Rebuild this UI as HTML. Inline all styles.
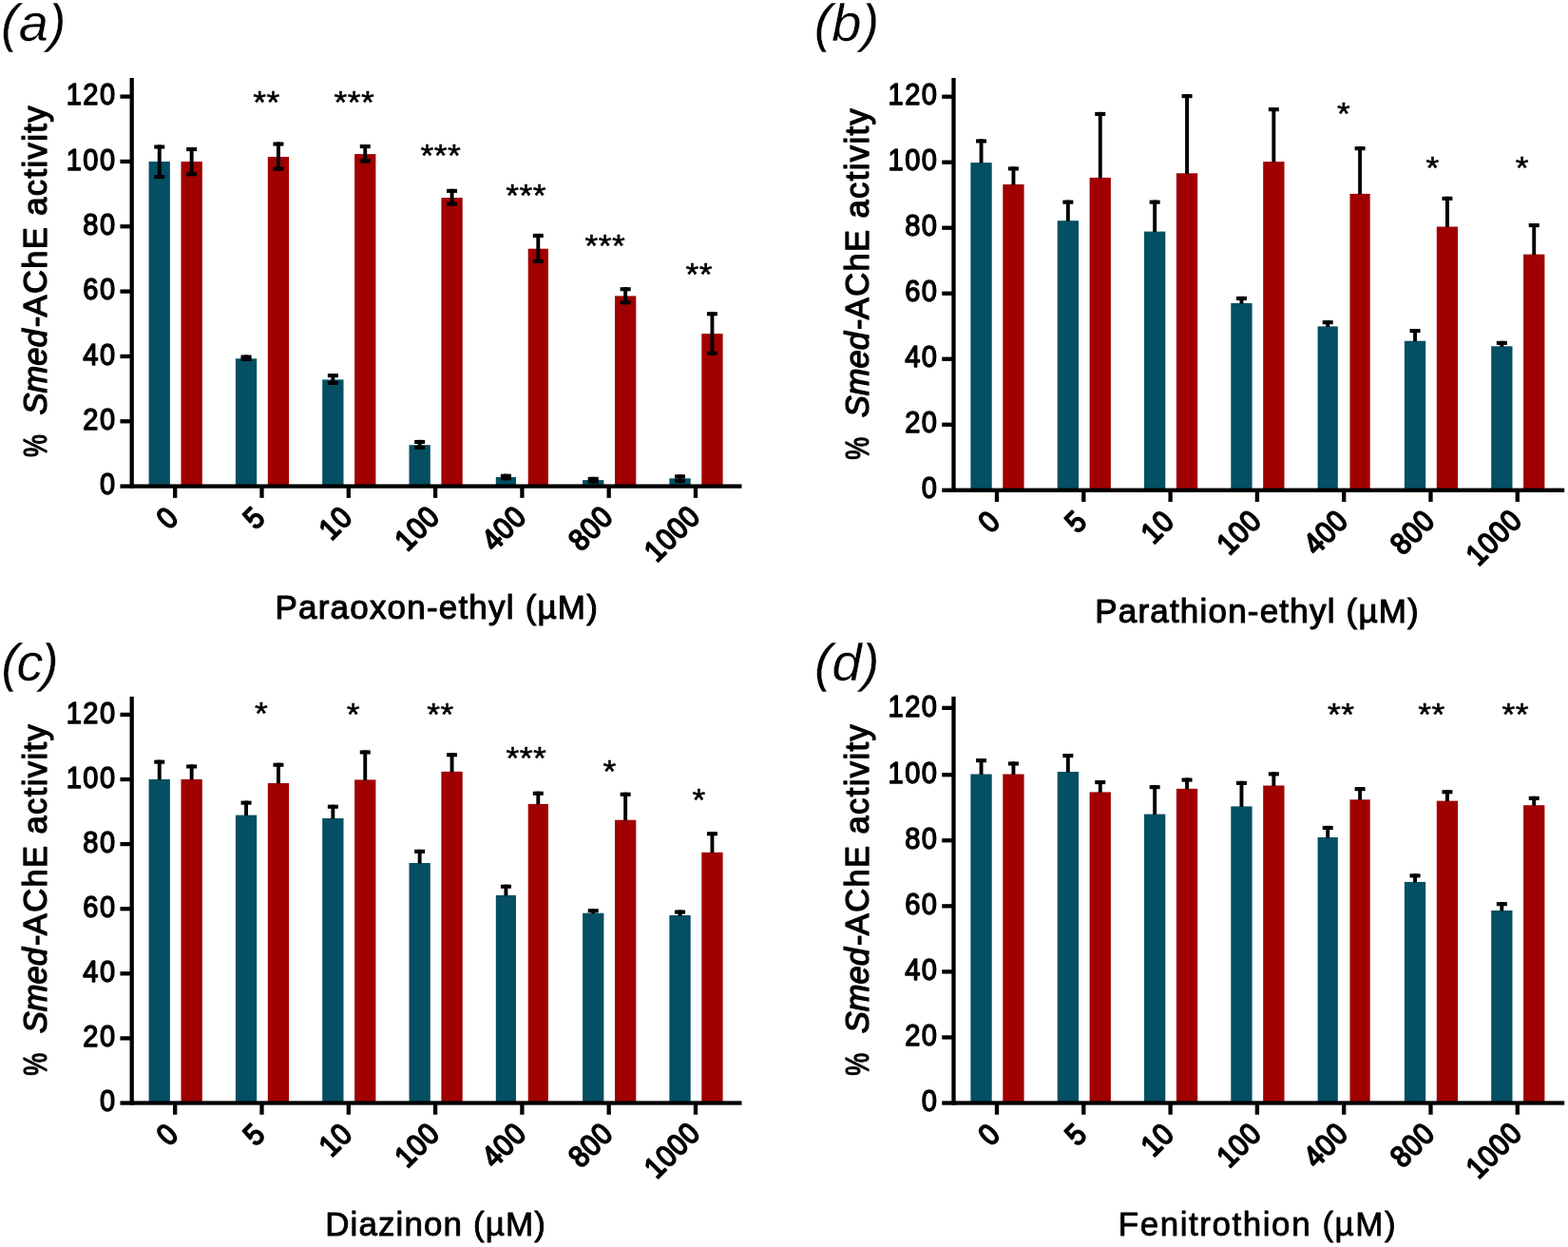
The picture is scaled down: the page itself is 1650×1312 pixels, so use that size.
<!DOCTYPE html>
<html lang="en">
<head>
<meta charset="utf-8">
<title>Smed-AChE activity</title>
<style>
html,body{margin:0;padding:0;background:#fff;}
body{width:1650px;height:1312px;overflow:hidden;}
svg{display:block;}
text{font-family:"Liberation Sans",sans-serif;fill:#000;stroke:#000;stroke-width:1.3px;stroke-linejoin:round;}
.t{font-size:32.3px;letter-spacing:1.65px;stroke-width:1.45px;}
.x{font-size:31.5px;letter-spacing:0.8px;stroke-width:1.8px;}
.s{font-size:33.5px;letter-spacing:0.4px;stroke-width:0.5px;}
.yl{font-size:34.5px;letter-spacing:1.4px;}
.xt{font-size:33px;stroke-width:0.5px;}
.pl{font-size:56px;font-style:italic;stroke:#fff;stroke-width:0.3px;}
</style>
</head>
<body>
<svg xmlns="http://www.w3.org/2000/svg" width="1650" height="1312" viewBox="0 0 1650 1312" shape-rendering="auto">
<g>
<rect x="0" y="0" width="1650" height="1312" fill="#fff"/>
<g>
<rect x="156.6" y="170" width="22.3" height="341.6" fill="#044F63"/>
<rect x="165.8" y="152.5" width="3.9" height="35.6" fill="#000"/>
<rect x="162.25" y="152.5" width="11" height="4.1" fill="#000"/>
<rect x="162.25" y="184" width="11" height="4.1" fill="#000"/>
<rect x="190.5" y="170" width="22.3" height="341.6" fill="#A00000"/>
<rect x="199.7" y="155" width="3.9" height="30.3" fill="#000"/>
<rect x="196.15" y="155" width="11" height="4.1" fill="#000"/>
<rect x="196.15" y="181.2" width="11" height="4.1" fill="#000"/>
<rect x="247.9" y="377.3" width="22.3" height="134.3" fill="#044F63"/>
<rect x="257.1" y="373.5" width="3.9" height="6.5" fill="#000"/>
<rect x="253.55" y="373.5" width="11" height="4.1" fill="#000"/>
<rect x="253.55" y="375.9" width="11" height="4.1" fill="#000"/>
<rect x="281.8" y="165" width="22.3" height="346.6" fill="#A00000"/>
<rect x="291" y="149.5" width="3.9" height="30.2" fill="#000"/>
<rect x="287.45" y="149.5" width="11" height="4.1" fill="#000"/>
<rect x="287.45" y="175.6" width="11" height="4.1" fill="#000"/>
<rect x="339.2" y="399.4" width="22.3" height="112.2" fill="#044F63"/>
<rect x="348.4" y="393.1" width="3.9" height="11.9" fill="#000"/>
<rect x="344.85" y="393.1" width="11" height="4.1" fill="#000"/>
<rect x="344.85" y="400.9" width="11" height="4.1" fill="#000"/>
<rect x="373.1" y="162.1" width="22.3" height="349.5" fill="#A00000"/>
<rect x="382.3" y="152" width="3.9" height="19.5" fill="#000"/>
<rect x="378.75" y="152" width="11" height="4.1" fill="#000"/>
<rect x="378.75" y="167.4" width="11" height="4.1" fill="#000"/>
<rect x="430.5" y="468.2" width="22.3" height="43.4" fill="#044F63"/>
<rect x="439.7" y="462.9" width="3.9" height="10.1" fill="#000"/>
<rect x="436.15" y="462.9" width="11" height="4.1" fill="#000"/>
<rect x="436.15" y="468.9" width="11" height="4.1" fill="#000"/>
<rect x="464.4" y="208" width="22.3" height="303.6" fill="#A00000"/>
<rect x="473.6" y="198.8" width="3.9" height="17.8" fill="#000"/>
<rect x="470.05" y="198.8" width="11" height="4.1" fill="#000"/>
<rect x="470.05" y="212.5" width="11" height="4.1" fill="#000"/>
<rect x="521.8" y="502" width="21.2" height="9.6" fill="#044F63"/>
<rect x="530.45" y="498.7" width="3.9" height="6.6" fill="#000"/>
<rect x="526.9" y="498.7" width="11" height="4.1" fill="#000"/>
<rect x="526.9" y="501.2" width="11" height="4.1" fill="#000"/>
<rect x="555.7" y="261.7" width="21.2" height="249.9" fill="#A00000"/>
<rect x="564.35" y="245.9" width="3.9" height="31.1" fill="#000"/>
<rect x="560.8" y="245.9" width="11" height="4.1" fill="#000"/>
<rect x="560.8" y="272.9" width="11" height="4.1" fill="#000"/>
<rect x="613.1" y="505.1" width="22.3" height="6.5" fill="#044F63"/>
<rect x="622.3" y="501.8" width="3.9" height="6.7" fill="#000"/>
<rect x="618.75" y="501.8" width="11" height="4.1" fill="#000"/>
<rect x="618.75" y="504.4" width="11" height="4.1" fill="#000"/>
<rect x="647" y="311.4" width="22.3" height="200.2" fill="#A00000"/>
<rect x="656.2" y="302.2" width="3.9" height="18.1" fill="#000"/>
<rect x="652.65" y="302.2" width="11" height="4.1" fill="#000"/>
<rect x="652.65" y="316.2" width="11" height="4.1" fill="#000"/>
<rect x="704.4" y="503.3" width="22.3" height="8.3" fill="#044F63"/>
<rect x="713.6" y="499.3" width="3.9" height="8.8" fill="#000"/>
<rect x="710.05" y="499.3" width="11" height="4.1" fill="#000"/>
<rect x="710.05" y="504" width="11" height="4.1" fill="#000"/>
<rect x="738.3" y="351.1" width="22.3" height="160.5" fill="#A00000"/>
<rect x="747.5" y="328.2" width="3.9" height="45.5" fill="#000"/>
<rect x="743.95" y="328.2" width="11" height="4.1" fill="#000"/>
<rect x="743.95" y="369.6" width="11" height="4.1" fill="#000"/>
<rect x="136.55" y="82" width="4.3" height="431.75" fill="#000"/>
<rect x="126.45" y="509.45" width="654.05" height="4.3" fill="#000"/>
<rect x="126.45" y="441.12" width="11.1" height="4.3" fill="#000"/>
<rect x="126.45" y="372.78" width="11.1" height="4.3" fill="#000"/>
<rect x="126.45" y="304.45" width="11.1" height="4.3" fill="#000"/>
<rect x="126.45" y="236.11" width="11.1" height="4.3" fill="#000"/>
<rect x="126.45" y="167.78" width="11.1" height="4.3" fill="#000"/>
<rect x="126.45" y="99.45" width="11.1" height="4.3" fill="#000"/>
<text class="t" text-anchor="end" transform="translate(122.65 520.3) scale(0.9 1)">0</text>
<text class="t" text-anchor="end" transform="translate(122.65 451.97) scale(0.9 1)">20</text>
<text class="t" text-anchor="end" transform="translate(122.65 383.63) scale(0.9 1)">40</text>
<text class="t" text-anchor="end" transform="translate(122.65 315.3) scale(0.9 1)">60</text>
<text class="t" text-anchor="end" transform="translate(122.65 246.96) scale(0.9 1)">80</text>
<text class="t" text-anchor="end" transform="translate(122.65 178.63) scale(0.9 1)">100</text>
<text class="t" text-anchor="end" transform="translate(122.65 110.3) scale(0.9 1)">120</text>
<rect x="182.05" y="511.6" width="4.3" height="12.25" fill="#000"/>
<text class="x" text-anchor="end" transform="translate(189.67 546.23) scale(1 1) rotate(-45) scale(0.92 1)">0</text>
<rect x="273.35" y="511.6" width="4.3" height="12.25" fill="#000"/>
<text class="x" text-anchor="end" transform="translate(280.97 546.23) scale(1 1) rotate(-45) scale(0.92 1)">5</text>
<rect x="364.65" y="511.6" width="4.3" height="12.25" fill="#000"/>
<text class="x" text-anchor="end" transform="translate(372.66 545.84) scale(1 1) rotate(-45) scale(0.92 1)">10</text>
<rect x="455.95" y="511.6" width="4.3" height="12.25" fill="#000"/>
<text class="x" text-anchor="end" transform="translate(464.35 545.45) scale(1 1) rotate(-45) scale(0.92 1)">100</text>
<rect x="547.25" y="511.6" width="4.3" height="12.25" fill="#000"/>
<text class="x" text-anchor="end" transform="translate(555.65 545.45) scale(1 1) rotate(-45) scale(0.92 1)">400</text>
<rect x="638.55" y="511.6" width="4.3" height="12.25" fill="#000"/>
<text class="x" text-anchor="end" transform="translate(646.95 545.45) scale(1 1) rotate(-45) scale(0.92 1)">800</text>
<rect x="729.85" y="511.6" width="4.3" height="12.25" fill="#000"/>
<text class="x" text-anchor="end" transform="translate(738.64 545.06) scale(1 1) rotate(-45) scale(0.92 1)">1000</text>
<text class="s" text-anchor="middle" transform="translate(280.51 118.8) scale(1.06 1)">**</text>
<text class="s" text-anchor="middle" transform="translate(372.91 118.8) scale(1.06 1)">***</text>
<text class="s" text-anchor="middle" transform="translate(463.81 174.5) scale(1.06 1)">***</text>
<text class="s" text-anchor="middle" transform="translate(553.51 217.2) scale(1.06 1)">***</text>
<text class="s" text-anchor="middle" transform="translate(636.91 269.7) scale(1.06 1)">***</text>
<text class="s" text-anchor="middle" transform="translate(735.71 299.7) scale(1.06 1)">**</text>
<text class="yl" transform="translate(49.3 481) rotate(-90) scale(0.78 1)" style="letter-spacing:0">%</text>
<text class="yl" transform="translate(49.3 436.5) rotate(-90)" style="font-style:italic;letter-spacing:0px">Smed</text>
<text class="yl" transform="translate(49.3 344.3) rotate(-90)" style="letter-spacing:0">-</text>
<text class="yl" transform="translate(49.3 333.5) rotate(-90)">AChE activity</text>
<text class="xt" text-anchor="middle" x="459.8" y="650.7" style="font-size:35px;letter-spacing:1.2px;stroke-width:1.1px">Paraoxon-ethyl (µM)</text>
<text class="pl" x="1" y="43.4" style="letter-spacing:0px">(a)</text>
</g>
<g>
<rect x="1021.4" y="171.1" width="22.3" height="344.65" fill="#044F63"/>
<rect x="1030.6" y="146.4" width="3.9" height="25.2" fill="#000"/>
<rect x="1027.05" y="146.4" width="11" height="4.1" fill="#000"/>
<rect x="1055.3" y="194" width="22.3" height="321.75" fill="#A00000"/>
<rect x="1064.5" y="175.4" width="3.9" height="19.1" fill="#000"/>
<rect x="1060.95" y="175.4" width="11" height="4.1" fill="#000"/>
<rect x="1112.7" y="232.2" width="22.3" height="283.55" fill="#044F63"/>
<rect x="1121.9" y="210.6" width="3.9" height="22.1" fill="#000"/>
<rect x="1118.35" y="210.6" width="11" height="4.1" fill="#000"/>
<rect x="1146.6" y="186.9" width="22.3" height="328.85" fill="#A00000"/>
<rect x="1155.8" y="117.9" width="3.9" height="69.5" fill="#000"/>
<rect x="1152.25" y="117.9" width="11" height="4.1" fill="#000"/>
<rect x="1204" y="243.6" width="22.3" height="272.15" fill="#044F63"/>
<rect x="1213.2" y="210.6" width="3.9" height="33.5" fill="#000"/>
<rect x="1209.65" y="210.6" width="11" height="4.1" fill="#000"/>
<rect x="1237.9" y="182.3" width="22.3" height="333.45" fill="#A00000"/>
<rect x="1247.1" y="99.1" width="3.9" height="83.7" fill="#000"/>
<rect x="1243.55" y="99.1" width="11" height="4.1" fill="#000"/>
<rect x="1295.3" y="319" width="22.3" height="196.75" fill="#044F63"/>
<rect x="1304.5" y="311.9" width="3.9" height="7.6" fill="#000"/>
<rect x="1300.95" y="311.9" width="11" height="4.1" fill="#000"/>
<rect x="1329.2" y="170.1" width="22.3" height="345.65" fill="#A00000"/>
<rect x="1338.4" y="113.1" width="3.9" height="57.5" fill="#000"/>
<rect x="1334.85" y="113.1" width="11" height="4.1" fill="#000"/>
<rect x="1386.6" y="343.4" width="21.2" height="172.35" fill="#044F63"/>
<rect x="1395.25" y="337.1" width="3.9" height="6.8" fill="#000"/>
<rect x="1391.7" y="337.1" width="11" height="4.1" fill="#000"/>
<rect x="1420.5" y="203.9" width="21.2" height="311.85" fill="#A00000"/>
<rect x="1429.15" y="154.1" width="3.9" height="50.3" fill="#000"/>
<rect x="1425.6" y="154.1" width="11" height="4.1" fill="#000"/>
<rect x="1477.9" y="358.7" width="22.3" height="157.05" fill="#044F63"/>
<rect x="1487.1" y="346" width="3.9" height="13.2" fill="#000"/>
<rect x="1483.55" y="346" width="11" height="4.1" fill="#000"/>
<rect x="1511.8" y="238.5" width="22.3" height="277.25" fill="#A00000"/>
<rect x="1521" y="206.8" width="3.9" height="32.2" fill="#000"/>
<rect x="1517.45" y="206.8" width="11" height="4.1" fill="#000"/>
<rect x="1569.2" y="364.3" width="22.3" height="151.45" fill="#044F63"/>
<rect x="1578.4" y="358.8" width="3.9" height="6" fill="#000"/>
<rect x="1574.85" y="358.8" width="11" height="4.1" fill="#000"/>
<rect x="1603.1" y="267.6" width="22.3" height="248.15" fill="#A00000"/>
<rect x="1612.3" y="235" width="3.9" height="33.1" fill="#000"/>
<rect x="1608.75" y="235" width="11" height="4.1" fill="#000"/>
<rect x="1001.35" y="82" width="4.3" height="435.9" fill="#000"/>
<rect x="991.25" y="513.6" width="654.95" height="4.3" fill="#000"/>
<rect x="991.25" y="444.59" width="11.1" height="4.3" fill="#000"/>
<rect x="991.25" y="375.58" width="11.1" height="4.3" fill="#000"/>
<rect x="991.25" y="306.58" width="11.1" height="4.3" fill="#000"/>
<rect x="991.25" y="237.57" width="11.1" height="4.3" fill="#000"/>
<rect x="991.25" y="168.56" width="11.1" height="4.3" fill="#000"/>
<rect x="991.25" y="99.55" width="11.1" height="4.3" fill="#000"/>
<text class="t" text-anchor="end" transform="translate(987.45 524.45) scale(0.9 1)">0</text>
<text class="t" text-anchor="end" transform="translate(987.45 455.44) scale(0.9 1)">20</text>
<text class="t" text-anchor="end" transform="translate(987.45 386.43) scale(0.9 1)">40</text>
<text class="t" text-anchor="end" transform="translate(987.45 317.43) scale(0.9 1)">60</text>
<text class="t" text-anchor="end" transform="translate(987.45 248.42) scale(0.9 1)">80</text>
<text class="t" text-anchor="end" transform="translate(987.45 179.41) scale(0.9 1)">100</text>
<text class="t" text-anchor="end" transform="translate(987.45 110.4) scale(0.9 1)">120</text>
<rect x="1046.85" y="515.75" width="4.3" height="12.25" fill="#000"/>
<text class="x" text-anchor="end" transform="translate(1054.47 550.38) scale(1 1) rotate(-45) scale(0.92 1)">0</text>
<rect x="1138.15" y="515.75" width="4.3" height="12.25" fill="#000"/>
<text class="x" text-anchor="end" transform="translate(1145.77 550.38) scale(1 1) rotate(-45) scale(0.92 1)">5</text>
<rect x="1229.45" y="515.75" width="4.3" height="12.25" fill="#000"/>
<text class="x" text-anchor="end" transform="translate(1237.46 549.99) scale(1 1) rotate(-45) scale(0.92 1)">10</text>
<rect x="1320.75" y="515.75" width="4.3" height="12.25" fill="#000"/>
<text class="x" text-anchor="end" transform="translate(1329.15 549.6) scale(1 1) rotate(-45) scale(0.92 1)">100</text>
<rect x="1412.05" y="515.75" width="4.3" height="12.25" fill="#000"/>
<text class="x" text-anchor="end" transform="translate(1420.45 549.6) scale(1 1) rotate(-45) scale(0.92 1)">400</text>
<rect x="1503.35" y="515.75" width="4.3" height="12.25" fill="#000"/>
<text class="x" text-anchor="end" transform="translate(1511.75 549.6) scale(1 1) rotate(-45) scale(0.92 1)">800</text>
<rect x="1594.65" y="515.75" width="4.3" height="12.25" fill="#000"/>
<text class="x" text-anchor="end" transform="translate(1603.44 549.21) scale(1 1) rotate(-45) scale(0.92 1)">1000</text>
<text class="s" text-anchor="middle" transform="translate(1414.01 131) scale(1.06 1)">*</text>
<text class="s" text-anchor="middle" transform="translate(1507.71 188.2) scale(1.06 1)">*</text>
<text class="s" text-anchor="middle" transform="translate(1601.81 188.2) scale(1.06 1)">*</text>
<text class="yl" transform="translate(914.1 483.7) rotate(-90) scale(0.78 1)" style="letter-spacing:0">%</text>
<text class="yl" transform="translate(914.1 439.2) rotate(-90)" style="font-style:italic;letter-spacing:0px">Smed</text>
<text class="yl" transform="translate(914.1 347) rotate(-90)" style="letter-spacing:0">-</text>
<text class="yl" transform="translate(914.1 336.2) rotate(-90)">AChE activity</text>
<text class="xt" text-anchor="middle" x="1323.1" y="655.4" style="font-size:35px;letter-spacing:1.2px;stroke-width:1.1px">Parathion-ethyl (µM)</text>
<text class="pl" x="856.7" y="43.4" style="letter-spacing:0px">(b)</text>
</g>
<g>
<rect x="156.6" y="819.9" width="22.3" height="340.6" fill="#044F63"/>
<rect x="165.8" y="799.6" width="3.9" height="20.8" fill="#000"/>
<rect x="162.25" y="799.6" width="11" height="4.1" fill="#000"/>
<rect x="190.5" y="819.9" width="22.3" height="340.6" fill="#A00000"/>
<rect x="199.7" y="804.4" width="3.9" height="16" fill="#000"/>
<rect x="196.15" y="804.4" width="11" height="4.1" fill="#000"/>
<rect x="247.9" y="857.6" width="22.3" height="302.9" fill="#044F63"/>
<rect x="257.1" y="842.6" width="3.9" height="15.5" fill="#000"/>
<rect x="253.55" y="842.6" width="11" height="4.1" fill="#000"/>
<rect x="281.8" y="824" width="22.3" height="336.5" fill="#A00000"/>
<rect x="291" y="802.7" width="3.9" height="21.8" fill="#000"/>
<rect x="287.45" y="802.7" width="11" height="4.1" fill="#000"/>
<rect x="339.2" y="860.9" width="22.3" height="299.6" fill="#044F63"/>
<rect x="348.4" y="846.7" width="3.9" height="14.7" fill="#000"/>
<rect x="344.85" y="846.7" width="11" height="4.1" fill="#000"/>
<rect x="373.1" y="820.4" width="22.3" height="340.1" fill="#A00000"/>
<rect x="382.3" y="789.4" width="3.9" height="31.5" fill="#000"/>
<rect x="378.75" y="789.4" width="11" height="4.1" fill="#000"/>
<rect x="430.5" y="908" width="22.3" height="252.5" fill="#044F63"/>
<rect x="439.7" y="893.8" width="3.9" height="14.7" fill="#000"/>
<rect x="436.15" y="893.8" width="11" height="4.1" fill="#000"/>
<rect x="464.4" y="811.8" width="22.3" height="348.7" fill="#A00000"/>
<rect x="473.6" y="792.2" width="3.9" height="20.1" fill="#000"/>
<rect x="470.05" y="792.2" width="11" height="4.1" fill="#000"/>
<rect x="521.8" y="941.9" width="21.2" height="218.6" fill="#044F63"/>
<rect x="530.45" y="930.7" width="3.9" height="11.7" fill="#000"/>
<rect x="526.9" y="930.7" width="11" height="4.1" fill="#000"/>
<rect x="555.7" y="845.9" width="21.2" height="314.6" fill="#A00000"/>
<rect x="564.35" y="832.7" width="3.9" height="13.7" fill="#000"/>
<rect x="560.8" y="832.7" width="11" height="4.1" fill="#000"/>
<rect x="613.1" y="960.7" width="22.3" height="199.8" fill="#044F63"/>
<rect x="622.3" y="956.2" width="3.9" height="5" fill="#000"/>
<rect x="618.75" y="956.2" width="11" height="4.1" fill="#000"/>
<rect x="647" y="862.7" width="22.3" height="297.8" fill="#A00000"/>
<rect x="656.2" y="833.7" width="3.9" height="29.5" fill="#000"/>
<rect x="652.65" y="833.7" width="11" height="4.1" fill="#000"/>
<rect x="704.4" y="963" width="22.3" height="197.5" fill="#044F63"/>
<rect x="713.6" y="957.5" width="3.9" height="6" fill="#000"/>
<rect x="710.05" y="957.5" width="11" height="4.1" fill="#000"/>
<rect x="738.3" y="896.8" width="22.3" height="263.7" fill="#A00000"/>
<rect x="747.5" y="875.2" width="3.9" height="22.1" fill="#000"/>
<rect x="743.95" y="875.2" width="11" height="4.1" fill="#000"/>
<rect x="136.55" y="732.9" width="4.3" height="429.75" fill="#000"/>
<rect x="126.45" y="1158.35" width="654.05" height="4.3" fill="#000"/>
<rect x="126.45" y="1090.25" width="11.1" height="4.3" fill="#000"/>
<rect x="126.45" y="1022.15" width="11.1" height="4.3" fill="#000"/>
<rect x="126.45" y="954.05" width="11.1" height="4.3" fill="#000"/>
<rect x="126.45" y="885.95" width="11.1" height="4.3" fill="#000"/>
<rect x="126.45" y="817.85" width="11.1" height="4.3" fill="#000"/>
<rect x="126.45" y="749.75" width="11.1" height="4.3" fill="#000"/>
<text class="t" text-anchor="end" transform="translate(122.65 1169.2) scale(0.9 1)">0</text>
<text class="t" text-anchor="end" transform="translate(122.65 1101.1) scale(0.9 1)">20</text>
<text class="t" text-anchor="end" transform="translate(122.65 1033) scale(0.9 1)">40</text>
<text class="t" text-anchor="end" transform="translate(122.65 964.9) scale(0.9 1)">60</text>
<text class="t" text-anchor="end" transform="translate(122.65 896.8) scale(0.9 1)">80</text>
<text class="t" text-anchor="end" transform="translate(122.65 828.7) scale(0.9 1)">100</text>
<text class="t" text-anchor="end" transform="translate(122.65 760.6) scale(0.9 1)">120</text>
<rect x="182.05" y="1160.5" width="4.3" height="12.25" fill="#000"/>
<text class="x" text-anchor="end" transform="translate(189.67 1195.13) scale(1 1) rotate(-45) scale(0.92 1)">0</text>
<rect x="273.35" y="1160.5" width="4.3" height="12.25" fill="#000"/>
<text class="x" text-anchor="end" transform="translate(280.97 1195.13) scale(1 1) rotate(-45) scale(0.92 1)">5</text>
<rect x="364.65" y="1160.5" width="4.3" height="12.25" fill="#000"/>
<text class="x" text-anchor="end" transform="translate(372.66 1194.74) scale(1 1) rotate(-45) scale(0.92 1)">10</text>
<rect x="455.95" y="1160.5" width="4.3" height="12.25" fill="#000"/>
<text class="x" text-anchor="end" transform="translate(464.35 1194.35) scale(1 1) rotate(-45) scale(0.92 1)">100</text>
<rect x="547.25" y="1160.5" width="4.3" height="12.25" fill="#000"/>
<text class="x" text-anchor="end" transform="translate(555.65 1194.35) scale(1 1) rotate(-45) scale(0.92 1)">400</text>
<rect x="638.55" y="1160.5" width="4.3" height="12.25" fill="#000"/>
<text class="x" text-anchor="end" transform="translate(646.95 1194.35) scale(1 1) rotate(-45) scale(0.92 1)">800</text>
<rect x="729.85" y="1160.5" width="4.3" height="12.25" fill="#000"/>
<text class="x" text-anchor="end" transform="translate(738.64 1193.96) scale(1 1) rotate(-45) scale(0.92 1)">1000</text>
<text class="s" text-anchor="middle" transform="translate(275.11 761.9) scale(1.06 1)">*</text>
<text class="s" text-anchor="middle" transform="translate(371.81 763.2) scale(1.06 1)">*</text>
<text class="s" text-anchor="middle" transform="translate(463.51 763.3) scale(1.06 1)">**</text>
<text class="s" text-anchor="middle" transform="translate(553.81 808.5) scale(1.06 1)">***</text>
<text class="s" text-anchor="middle" transform="translate(641.61 823) scale(1.06 1)">*</text>
<text class="s" text-anchor="middle" transform="translate(735.61 852.6) scale(1.06 1)">*</text>
<text class="yl" transform="translate(49.3 1131.7) rotate(-90) scale(0.78 1)" style="letter-spacing:0">%</text>
<text class="yl" transform="translate(49.3 1087.2) rotate(-90)" style="font-style:italic;letter-spacing:0px">Smed</text>
<text class="yl" transform="translate(49.3 995) rotate(-90)" style="letter-spacing:0">-</text>
<text class="yl" transform="translate(49.3 984.2) rotate(-90)">AChE activity</text>
<text class="xt" text-anchor="middle" x="458.6" y="1300.4" style="font-size:35px;letter-spacing:1.1px;stroke-width:0.9px">Diazinon (µM)</text>
<text class="pl" x="1.3" y="716.3" style="letter-spacing:-2.5px">(c)</text>
</g>
<g>
<rect x="1021.4" y="814.5" width="22.3" height="346" fill="#044F63"/>
<rect x="1030.6" y="798.1" width="3.9" height="16.9" fill="#000"/>
<rect x="1027.05" y="798.1" width="11" height="4.1" fill="#000"/>
<rect x="1055.3" y="814.5" width="22.3" height="346" fill="#A00000"/>
<rect x="1064.5" y="801.4" width="3.9" height="13.6" fill="#000"/>
<rect x="1060.95" y="801.4" width="11" height="4.1" fill="#000"/>
<rect x="1112.7" y="812" width="22.3" height="348.5" fill="#044F63"/>
<rect x="1121.9" y="793" width="3.9" height="19.5" fill="#000"/>
<rect x="1118.35" y="793" width="11" height="4.1" fill="#000"/>
<rect x="1146.6" y="833.4" width="22.3" height="327.1" fill="#A00000"/>
<rect x="1155.8" y="821" width="3.9" height="12.9" fill="#000"/>
<rect x="1152.25" y="821" width="11" height="4.1" fill="#000"/>
<rect x="1204" y="856.6" width="22.3" height="303.9" fill="#044F63"/>
<rect x="1213.2" y="826.1" width="3.9" height="31" fill="#000"/>
<rect x="1209.65" y="826.1" width="11" height="4.1" fill="#000"/>
<rect x="1237.9" y="829.8" width="22.3" height="330.7" fill="#A00000"/>
<rect x="1247.1" y="818.5" width="3.9" height="11.8" fill="#000"/>
<rect x="1243.55" y="818.5" width="11" height="4.1" fill="#000"/>
<rect x="1295.3" y="848.4" width="22.3" height="312.1" fill="#044F63"/>
<rect x="1304.5" y="821.8" width="3.9" height="27.1" fill="#000"/>
<rect x="1300.95" y="821.8" width="11" height="4.1" fill="#000"/>
<rect x="1329.2" y="826.5" width="22.3" height="334" fill="#A00000"/>
<rect x="1338.4" y="812.3" width="3.9" height="14.7" fill="#000"/>
<rect x="1334.85" y="812.3" width="11" height="4.1" fill="#000"/>
<rect x="1386.6" y="881" width="21.2" height="279.5" fill="#044F63"/>
<rect x="1395.25" y="868.9" width="3.9" height="12.6" fill="#000"/>
<rect x="1391.7" y="868.9" width="11" height="4.1" fill="#000"/>
<rect x="1420.5" y="841.3" width="21.2" height="319.2" fill="#A00000"/>
<rect x="1429.15" y="828.1" width="3.9" height="13.7" fill="#000"/>
<rect x="1425.6" y="828.1" width="11" height="4.1" fill="#000"/>
<rect x="1477.9" y="927.9" width="22.3" height="232.6" fill="#044F63"/>
<rect x="1487.1" y="919.3" width="3.9" height="9.1" fill="#000"/>
<rect x="1483.55" y="919.3" width="11" height="4.1" fill="#000"/>
<rect x="1511.8" y="842.6" width="22.3" height="317.9" fill="#A00000"/>
<rect x="1521" y="831.2" width="3.9" height="11.9" fill="#000"/>
<rect x="1517.45" y="831.2" width="11" height="4.1" fill="#000"/>
<rect x="1569.2" y="957.9" width="22.3" height="202.6" fill="#044F63"/>
<rect x="1578.4" y="949.1" width="3.9" height="9.3" fill="#000"/>
<rect x="1574.85" y="949.1" width="11" height="4.1" fill="#000"/>
<rect x="1603.1" y="847.2" width="22.3" height="313.3" fill="#A00000"/>
<rect x="1612.3" y="837.8" width="3.9" height="9.9" fill="#000"/>
<rect x="1608.75" y="837.8" width="11" height="4.1" fill="#000"/>
<rect x="1001.35" y="732.9" width="4.3" height="429.75" fill="#000"/>
<rect x="991.25" y="1158.35" width="654.95" height="4.3" fill="#000"/>
<rect x="991.25" y="1089.29" width="11.1" height="4.3" fill="#000"/>
<rect x="991.25" y="1020.23" width="11.1" height="4.3" fill="#000"/>
<rect x="991.25" y="951.17" width="11.1" height="4.3" fill="#000"/>
<rect x="991.25" y="882.11" width="11.1" height="4.3" fill="#000"/>
<rect x="991.25" y="813.05" width="11.1" height="4.3" fill="#000"/>
<rect x="991.25" y="742.69" width="11.1" height="4.3" fill="#000"/>
<text class="t" text-anchor="end" transform="translate(987.45 1169.2) scale(0.9 1)">0</text>
<text class="t" text-anchor="end" transform="translate(987.45 1100.14) scale(0.9 1)">20</text>
<text class="t" text-anchor="end" transform="translate(987.45 1031.08) scale(0.9 1)">40</text>
<text class="t" text-anchor="end" transform="translate(987.45 962.02) scale(0.9 1)">60</text>
<text class="t" text-anchor="end" transform="translate(987.45 892.96) scale(0.9 1)">80</text>
<text class="t" text-anchor="end" transform="translate(987.45 823.9) scale(0.9 1)">100</text>
<text class="t" text-anchor="end" transform="translate(987.45 753.54) scale(0.9 1)">120</text>
<rect x="1046.85" y="1160.5" width="4.3" height="12.25" fill="#000"/>
<text class="x" text-anchor="end" transform="translate(1054.47 1195.13) scale(1 1) rotate(-45) scale(0.92 1)">0</text>
<rect x="1138.15" y="1160.5" width="4.3" height="12.25" fill="#000"/>
<text class="x" text-anchor="end" transform="translate(1145.77 1195.13) scale(1 1) rotate(-45) scale(0.92 1)">5</text>
<rect x="1229.45" y="1160.5" width="4.3" height="12.25" fill="#000"/>
<text class="x" text-anchor="end" transform="translate(1237.46 1194.74) scale(1 1) rotate(-45) scale(0.92 1)">10</text>
<rect x="1320.75" y="1160.5" width="4.3" height="12.25" fill="#000"/>
<text class="x" text-anchor="end" transform="translate(1329.15 1194.35) scale(1 1) rotate(-45) scale(0.92 1)">100</text>
<rect x="1412.05" y="1160.5" width="4.3" height="12.25" fill="#000"/>
<text class="x" text-anchor="end" transform="translate(1420.45 1194.35) scale(1 1) rotate(-45) scale(0.92 1)">400</text>
<rect x="1503.35" y="1160.5" width="4.3" height="12.25" fill="#000"/>
<text class="x" text-anchor="end" transform="translate(1511.75 1194.35) scale(1 1) rotate(-45) scale(0.92 1)">800</text>
<rect x="1594.65" y="1160.5" width="4.3" height="12.25" fill="#000"/>
<text class="x" text-anchor="end" transform="translate(1603.44 1193.96) scale(1 1) rotate(-45) scale(0.92 1)">1000</text>
<text class="s" text-anchor="middle" transform="translate(1411.31 762.8) scale(1.06 1)">**</text>
<text class="s" text-anchor="middle" transform="translate(1506.51 762.8) scale(1.06 1)">**</text>
<text class="s" text-anchor="middle" transform="translate(1594.81 762.8) scale(1.06 1)">**</text>
<text class="yl" transform="translate(914.1 1131.7) rotate(-90) scale(0.78 1)" style="letter-spacing:0">%</text>
<text class="yl" transform="translate(914.1 1087.2) rotate(-90)" style="font-style:italic;letter-spacing:0px">Smed</text>
<text class="yl" transform="translate(914.1 995) rotate(-90)" style="letter-spacing:0">-</text>
<text class="yl" transform="translate(914.1 984.2) rotate(-90)">AChE activity</text>
<text class="xt" text-anchor="middle" x="1323.5" y="1300.4" style="font-size:35px;letter-spacing:1.55px;stroke-width:0.8px">Fenitrothion (µM)</text>
<text class="pl" x="856.9" y="716.3" style="letter-spacing:0px">(d)</text>
</g>
</g>
</svg>
</body>
</html>
